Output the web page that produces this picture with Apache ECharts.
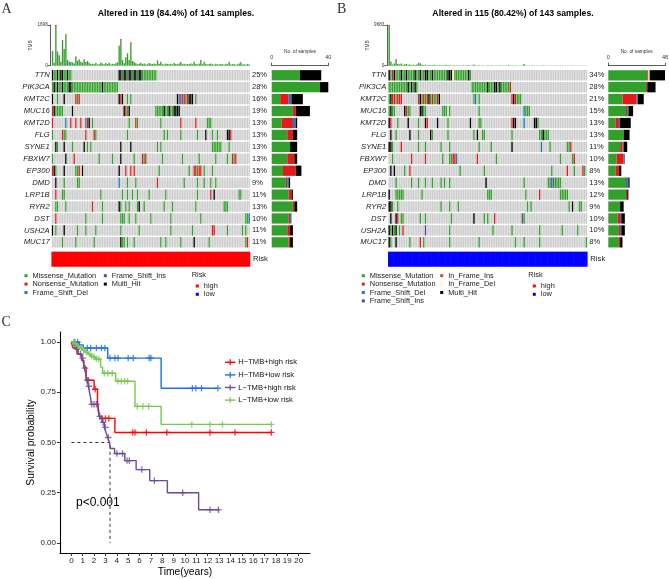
<!DOCTYPE html>
<html><head><meta charset="utf-8">
<script src="https://cdn.jsdelivr.net/npm/echarts@6.0.0/dist/echarts.min.js"></script>
<style>html,body{margin:0;padding:0;background:#fff;}#c{width:669px;height:579px;}</style>
</head><body><div id="c"></div>
<script>
// ================= DATA =================
const genes = ['TTN','PIK3CA','KMT2C','MUC16','KMT2D','FLG','SYNE1','FBXW7','EP300','DMD','LRP1B','RYR2','DST','USH2A','MUC17'];
const pctA = ['25%','28%','16%','19%','13%','13%','13%','13%','15%','9%','11%','13%','10%','11%','11%'];
const pctB = ['34%','28%','21%','15%','13%','13%','11%','10%','8%','13%','12%','9%','10%','10%','8%'];
const titleA = 'Altered in 119 (84.4%) of 141 samples.';
const titleB = 'Altered in 115 (80.42%) of 143 samples.';
const nA = 119, nB = 115;
// mutation codes per sample column: M missense, N nonsense, D frame-shift del, I frame-shift ins, i in-frame ins, d in-frame del, X multi-hit
const mutA = [
 "0X 1M 2M 3X 4M 5X 6X 7M 8M 9X 10M 11M 40X 41X 42M 43X 44X 45M 46X 47X 48M 49X 50X 51M 52X 53X 54-62M",
 "0M 1X 2M 3X 4-5M 6X 7-9M 10X 11X 12-29M 30X 31-39M",
 "0X 3M 7X 14N 15M 16N 40X 41N 42X 45M 47M 75X 76D 77N 78D 79N 80M 81N 82X 83X 84X 86M",
 "0N 1X 2-6M 12X 43X 44N 45M 46X 62M 63-66M 67X 68M 69M 70X 71M 72M 73X 74X 75X 76X",
 "0N 8D 11N 14N 17N 20D 21N 22X 24M 46M 50N 51M 65M 77N 86N 93M 94M 95M",
 "0M 6N 7M 8M 20N 25N 26M 45M 67M 69M 77M 87M 92X 96M 99M 105X 106X 107N",
 "2X 3M 7X 12M 19X 21M 23M 41X 47X 63M 65M 96-101M 106M",
 "0M 8X 13N 28M 36M 41X 49M 54N 55M 56N 66M 78M 88M 98M 105M 108N 109M 110N",
 "0N 1X 2M 7X 14M 15M 16N 18X 40X 44N 47N 49N 64M 82M 85N 86N 87M 88N 89N 91M 96M",
 "2X 7M 15M 16M 40D 45M 50M 63N 79M 87M 91M 95M 98M",
 "2N 6M 7M 29M 42M 45M 48M 51M 58M 68M 87M 95N 97X 112M 113M",
 "2M 3M 8M 24N 30M 40X 41M 44M 46M 51M 52X 55M 67M 72M 86M 103-105M",
 "2N 20M 30M 41-43M 46M 50M 59M 71M 89M 116M 117M 118D",
 "0X 2M 7X 15M 20M 26M 41M 52M 71M 84M 96N 97N 105M 114M 116M",
 "6M 14M 25M 41X 42M 43M 45M 49M 65M 68M 77M 85X 94M 116M 117N"
];
const mutB = [
 "0X 1M 2N 3X 4-6M 7X 8M 9M 10X 11-14M 15X 16M 17M 18X 19M 20M 21X 22X 23M 24M 25X 26-33M 34X 35X 36X 37d 38-45M 46X 47M",
 "0-10M 11X 12M 13X 14M 15X 16M 48-56M 57X 58-60M 61X 62X 63M 64X 65-69M 70N",
 "0M 1X 2N 3N 4M 5N 6N 7N 17N 18X 19M 20N 21M 22N 23X 24M 25N 26M 27M 28N 29X 49M 50D 52M 71N 72X 73N 74-76M",
 "0M 1X 2M 3M 9X 10N 11M 12M 18X 19X 20M 21M 31M 32M 33M 35M 52M 78D 79-81M",
 "0X 1N 5M 11X 17M 21X 22N 28X 34M 47X 52M 53M 71N 72X 73X 78D 84X 85X 86M",
 "1X 4M 12X 17M 24X 25M 34M 49M 51X 54M 55M 71M 87M 88M 89X 90-92M",
 "0X 1X 2M 7N 17M 21M 30M 35M 52M 59M 71X 88D 93M 103M 104M 105N",
 "2M 13N 21N 31M 35M 36M 37N 38N 39D 51N 62M 99M 106M 107N",
 "1X 3X 9M 12N 41M 55M 94M 103N 107M 112N 113M",
 "4M 13M 17M 21M 25M 30M 32M 35M 56X 78M 92M 93M 94I 95D 96-99M",
 "0X 4-8M 19M 57-59M 79M 87N 99-103M",
 "0X 1X 2M 5M 30M 35M 40M 80M 82M 104M 106X 110M 111M",
 "1X 4X 5N 7M 8M 18M 21M 36M 49X 55M 57M 61N 77I 78M",
 "0X 1M 2X 3M 4X 6M 8N 21I 35M 60M 71M 87M 100M 109M",
 "0X 1M 4X 12M 18N 20M 35M 52M 73M 78M 87M 114M"
];
// TMB per sample (missense part) and extra parts [sample, value]
const tmbA_mis = [590,120,1610,565,440,170,1010,700,1120,240, 180,150,140,90,360,200,240,170,130,265, 100,195,125,70,80,60,110,50,60,130, 90,60,110,70,130,50,80,60,100,140, 795,1053,236,100,348,485,236,924,195,150, 100,60,80,120,70,90,50,60,110,80, 70,90,60,210,80,167,60,50,90,70, 60,80,50,110,70,60,90,150,60,80, 50,70,60,90,60,167,70,50,80,236, 60,167,80,50,70,90,60,40,80,60, 50,70,60,40,80,60,167,50,60,70, 40,60,90,140,50,60,40,70,50];
const tmbA_non = [[0,30],[2,88],[3,25],[6,60],[8,50],[14,20],[40,40],[41,60],[45,30],[47,50],[16,15],[63,15]];
const tmbA_del = [[8,140],[20,50]];
const tmbB_mis = [9400,900,300,520,1480,380,300,520,250,350, 420,200,300,150,250,180,300,690,540,200, 150,250,120,180,100,150,200,120,90,150, 100,80,120,150,100,80,60,120,90,100, 80,100,60,150,80,120,90,60,100,300, 80,60,100,70,90,60,50,80,60,100, 70,60,90,50,80,60,70,50,60,200, 60,80,50,90,60,70,50,80,380,60, 50,70,60,80,50,60,70,50,60,80, 50,60,40,70,50,60,40,50,60,70, 40,60,50,40,60,50,70,40,50,60, 40,50,60,40,50];
const tmbB_non = [[0,283],[1,50],[4,100],[17,25]];
const tmbB_del = [];
const tmbMaxA = 1698, tmbMaxB = 9683;
const barMaxA = 40, barMaxB = 48;
const riskA = [['high', 119]];
const riskB = [['low', 115]];
const typeCodes = ['M','N','D','I','i','d','X'];
const typeNames = ['Missense_Mutation','Nonsense_Mutation','Frame_Shift_Del','Frame_Shift_Ins','In_Frame_Ins','In_Frame_Del','Multi_Hit'];
const legendItemsA = ['Missense_Mutation','Nonsense_Mutation','Frame_Shift_Del','Frame_Shift_Ins','Multi_Hit'];
const legendItemsB = ['Missense_Mutation','Nonsense_Mutation','Frame_Shift_Del','Frame_Shift_Ins','In_Frame_Ins','In_Frame_Del','Multi_Hit'];
const riskLevels = ['high','low'];
// Kaplan-Meier
const kmGroups = ['H\u2212TMB+high risk','H\u2212TMB+low risk','L\u2212TMB+high risk','L\u2212TMB+low risk'];
const kmHH_t = [0,0.15,0.5,0.9,1.1,1.3,2.0,2.3,2.4,2.5,3.83,17.6];
const kmHH_s = [1.0,0.97,0.94,0.91,0.875,0.81,0.765,0.70,0.66,0.62,0.55,0.55];
const kmHH_c = [1.5,2.1,2.7,3.0,3.3,5.4,5.6,6.6,8.4,12.2,14.4,17.6];
const kmHL_t = [0,0.7,1.05,3.2,7.9,12.9];
const kmHL_s = [1.0,0.985,0.97,0.92,0.77,0.77];
const kmHL_c = [0.3,0.55,1.4,1.7,2.2,2.65,2.95,3.4,3.83,4.1,5.0,5.45,6.85,7.0,10.65,10.95,11.45,12.9];
const kmLH_t = [0,0.2,0.4,0.6,0.9,1.05,1.15,1.25,1.35,1.5,1.6,1.7,1.75,2.35,2.45,2.7,2.9,3.05,3.2,3.35,3.45,3.8,4.7,5.7,6.9,8.45,11.2,13.0];
const kmLH_s = [1.0,0.985,0.965,0.94,0.92,0.90,0.87,0.845,0.81,0.78,0.75,0.72,0.69,0.66,0.63,0.60,0.575,0.55,0.525,0.50,0.47,0.445,0.41,0.365,0.31,0.25,0.165,0.165];
const kmLH_c = [0.3,0.5,0.8,1.0,1.2,1.4,1.55,1.8,2.0,2.2,2.5,2.8,3.0,3.25,4.0,4.5,4.9,5.1,6.2,7.3,9.8,12.2,12.95];
const kmLL_t = [0,0.25,0.5,0.75,1.0,1.2,1.45,1.7,1.9,2.1,2.57,2.75,3.9,5.6,7.9,17.6];
const kmLL_s = [1.0,0.99,0.98,0.97,0.96,0.95,0.94,0.93,0.925,0.915,0.875,0.845,0.805,0.68,0.59,0.59];
const kmLL_c = [0.2,0.35,0.6,0.9,1.1,1.3,1.6,1.8,2.0,2.2,2.4,2.9,3.2,3.6,4.1,4.4,4.7,4.95,5.8,6.3,6.8,10.6,12.2,13.3,17.6];
const medianTime = 3.4;
const pText = 'p<0.001';
const kmXTicks = [0,1,2,3,4,5,6,7,8,9,10,11,12,13,14,15,16,17,18,19,20];
const kmYTicks = [0,0.25,0.5,0.75,1.0];

// ================= STYLE / BUILD =================
const FONT = "'Liberation Sans', Arial, sans-serif";
const typeColor = {M:'#33A02C', N:'#E31A1C', D:'#1F78B4', I:'#6A3D9A', i:'#D53E4F', d:'#FFFF99', X:'#000000'};
const greyCell = '#CCCCCC';
const riskColor = {high:'#FF0000', low:'#0000FF'};
const kmColors = ['#FF0000','#1F6FE5','#6B4A9B','#78C850'];

function parseMut(str){
  const out = [];
  str.trim().split(/\s+/).forEach(tok => {
    const m = tok.match(/^(\d+)(?:-(\d+))?([A-Za-z])$/);
    const a = +m[1], b = m[2] !== undefined ? +m[2] : a;
    for (let k = a; k <= b; k++) out.push([k, m[3]]);
  });
  return out;
}
function matrixData(mut, n){
  const data = [];
  mut.forEach((s, r) => {
    const row = new Array(n).fill(0);
    parseMut(s).forEach(([k, c]) => { if (k < n) row[k] = typeCodes.indexOf(c) + 1; });
    row.forEach((c, k) => data.push([k, r, c]));
  });
  return data;
}
function counts(mut){
  return typeCodes.map(code => mut.map(s => parseMut(s).filter(p => p[1] === code).length));
}
const cellColors = [greyCell].concat(typeCodes.map(c => typeColor[c]));
function cellItem(params, api){
  const p = api.coord([api.value(0), api.value(1)]);
  const s = api.size([1, 1]);
  return {type:'rect', shape:{x:p[0]-s[0]/2+0.15, y:p[1]-s[1]/2+0.75, width:Math.max(s[0]-0.3,0.4), height:s[1]-1.5},
          style:{fill: cellColors[api.value(2)]}};
}
function riskItem(params, api){
  const p = api.coord([api.value(0), 0]);
  const s = api.size([1, 1]);
  return {type:'rect', shape:{x:p[0]-s[0]/2-0.3, y:p[1]-s[1]/2, width:s[0]+0.6, height:s[1]},
          style:{fill: riskColor[riskLevels[api.value(2)]]}};
}
function riskData(risk){
  const d = []; let k = 0;
  risk.forEach(([lvl, cnt]) => { for (let j = 0; j < cnt; j++) d.push([k++, 0, riskLevels.indexOf(lvl)]); });
  return d;
}
function sparse(pairs, n){ const a = new Array(n).fill(0); pairs.forEach(([k,v]) => a[k] = v); return a; }
function survAt(t, s, x){ let v = s[0]; for (let i = 0; i < t.length; i++) if (t[i] <= x) v = s[i]; return v; }

const samplesA = Array.from({length:nA}, (_, i) => 'A' + i);
const samplesB = Array.from({length:nB}, (_, i) => 'B' + i);

const panels = [
  {n:nA, samples:samplesA, mut:mutA, pct:pctA, mis:tmbA_mis, non:tmbA_non, del:tmbA_del, tmax:tmbMaxA, bmax:barMaxA, risk:riskA,
   tmbGrid:{left:51.7, top:25, width:198.3, height:40.7}, matGrid:{left:51.7, top:69.3, width:198.3, height:179},
   barGrid:{left:271.7, top:69.3, width:56.6, height:179}, riskGrid:{left:51.7, top:251.7, width:198.3, height:15}},
  {n:nB, samples:samplesB, mut:mutB, pct:pctB, mis:tmbB_mis, non:tmbB_non, del:tmbB_del, tmax:tmbMaxB, bmax:barMaxB, risk:riskB,
   tmbGrid:{left:388.3, top:25, width:199, height:40.7}, matGrid:{left:388.3, top:69.3, width:199, height:179},
   barGrid:{left:608.3, top:69.3, width:56.7, height:179}, riskGrid:{left:388.3, top:251.7, width:199, height:15}}
];

const grid = [], xAxis = [], yAxis = [], series = [];
const axisCol = '#333';
panels.forEach(P => {
  const g0 = grid.length;
  [P.tmbGrid, P.matGrid, P.barGrid, P.riskGrid].forEach(g => grid.push(Object.assign({outerBoundsMode:'none', containLabel:false}, g)));
  const xi = xAxis.length;
  xAxis.push({gridIndex:g0, type:'category', data:P.samples, show:false});
  xAxis.push({gridIndex:g0+1, type:'category', data:P.samples, show:false});
  xAxis.push({gridIndex:g0+2, type:'value', position:'top', min:0, max:P.bmax, interval:P.bmax, offset:3.6,
    axisLine:{show:true, lineStyle:{color:axisCol, width:0.8}}, axisTick:{show:true, length:3, lineStyle:{color:axisCol, width:0.8}},
    axisLabel:{fontSize:5.5, color:'#333', margin:5, fontFamily:FONT, formatter:v => String(v)}, splitLine:{show:false},
    name:'No. of samples', nameLocation:'middle', nameGap:2.5, nameTextStyle:{fontSize:4.8, color:'#333', fontFamily:FONT}});
  xAxis.push({gridIndex:g0+3, type:'category', data:P.samples, show:false});
  const yi = yAxis.length;
  yAxis.push({gridIndex:g0, type:'value', min:0, max:P.tmax, interval:P.tmax, offset:1.5,
    axisLine:{show:true, lineStyle:{color:axisCol, width:0.8}}, axisTick:{show:true, length:2.5, lineStyle:{color:axisCol, width:0.8}},
    axisLabel:{fontSize:4.6, color:'#333', margin:2.5, fontFamily:FONT, formatter:v => String(v)}, splitLine:{show:false},
    name:'TMB', nameLocation:'middle', nameGap:14, nameRotate:90, nameTextStyle:{fontSize:4.8, color:'#333', fontFamily:FONT}});
  yAxis.push({gridIndex:g0+1, type:'category', data:genes, inverse:true, position:'left',
    axisLine:{show:false}, axisTick:{show:false},
    axisLabel:{interval:0, fontSize:7.7, fontStyle:'italic', color:'#222', margin:2, fontFamily:FONT}});
  yAxis.push({gridIndex:g0+1, type:'category', data:genes, inverse:true, position:'right',
    axisLine:{show:false}, axisTick:{show:false},
    axisLabel:{interval:0, fontSize:7.5, color:'#222', margin:2, fontFamily:FONT, formatter:(v, i) => P.pct[i]}});
  yAxis.push({gridIndex:g0+2, type:'category', data:genes, inverse:true, show:false});
  yAxis.push({gridIndex:g0+3, type:'category', data:['Risk'], position:'right',
    axisLine:{show:false}, axisTick:{show:false}, axisLabel:{fontSize:7.7, color:'#222', margin:3, fontFamily:FONT}});
  const del = sparse(P.del, P.n), non = sparse(P.non, P.n);
  [[del, typeColor.D], [P.mis, typeColor.M], [non, typeColor.N]].forEach(([d, c]) => {
    series.push({type:'bar', xAxisIndex:xi, yAxisIndex:yi, stack:'tmb'+g0, data:d, barWidth:'82%',
      itemStyle:{color:c}, silent:true});
  });
  series.push({type:'custom', xAxisIndex:xi+1, yAxisIndex:yi+1, renderItem:cellItem,
    data:matrixData(P.mut, P.n), encode:{x:0, y:1}, silent:true});
  const cnt = counts(P.mut);
  typeCodes.forEach((code, ti) => {
    if (cnt[ti].every(v => v === 0)) return;
    series.push({type:'bar', xAxisIndex:xi+2, yAxisIndex:yi+3, stack:'gb'+g0, data:cnt[ti], barWidth:'86%',
      itemStyle:{color:typeColor[code]}, silent:true});
  });
  series.push({type:'custom', xAxisIndex:xi+3, yAxisIndex:yi+4, renderItem:riskItem,
    data:riskData(P.risk), encode:{x:0, y:1}, silent:true});
});

// KM grid
const kmG = grid.length;
grid.push({left:60, top:332, width:250, height:221, outerBoundsMode:'none', containLabel:false});
const kmXi = xAxis.length, kmYi = yAxis.length;
xAxis.push({gridIndex:kmG, type:'value', min:-1, max:21,
  axisLine:{show:true, onZero:false, lineStyle:{color:'#000', width:1.1}},
  axisTick:{show:true, length:3, customValues:kmXTicks, lineStyle:{color:'#333', width:1}},
  axisLabel:{customValues:kmXTicks, fontSize:8, color:'#222', margin:4, fontFamily:FONT}, splitLine:{show:false},
  name:'Time(years)', nameLocation:'middle', nameGap:14, nameTextStyle:{fontSize:10.3, color:'#000', fontFamily:FONT}});
yAxis.push({gridIndex:kmG, type:'value', min:-0.05, max:1.05,
  axisLine:{show:true, onZero:false, lineStyle:{color:'#000', width:1.1}},
  axisTick:{show:true, length:3, customValues:kmYTicks, lineStyle:{color:'#333', width:1}},
  axisLabel:{customValues:kmYTicks, fontSize:8, color:'#222', margin:4, fontFamily:FONT, formatter:v => (+v).toFixed(2)},
  splitLine:{show:false},
  name:'Survival probability', nameLocation:'middle', nameGap:24, nameRotate:90, nameTextStyle:{fontSize:10.3, color:'#000', fontFamily:FONT}});

const plusPath = 'path://M4,0H6V4H10V6H6V10H4V6H0V4H4Z';
const kmSets = [[kmHH_t,kmHH_s,kmHH_c],[kmHL_t,kmHL_s,kmHL_c],[kmLH_t,kmLH_s,kmLH_c],[kmLL_t,kmLL_s,kmLL_c]];
series.push({type:'line', xAxisIndex:kmXi, yAxisIndex:kmYi, data:[[0,0.5],[medianTime,0.5],[medianTime,0]], symbol:'none',
  lineStyle:{color:'#000', width:0.8, type:[3,3]}, silent:true, z:1});
kmSets.forEach(([t, s, c], gi) => {
  series.push({type:'line', xAxisIndex:kmXi, yAxisIndex:kmYi, step:'end', symbol:'none',
    data:t.map((x, i) => [x, s[i]]), lineStyle:{color:kmColors[gi], width:1.4}, silent:true, z:2+gi});
  series.push({type:'scatter', xAxisIndex:kmXi, yAxisIndex:kmYi, symbol:plusPath, symbolSize:6.5,
    data:c.map(x => [x, survAt(t, s, x)]), itemStyle:{color:kmColors[gi]}, silent:true, z:2+gi});
});

// ================= GRAPHICS (titles, legends) =================
const gfx = [];
function text(x, y, str, o){
  gfx.push({type:'text', x, y, silent:true, style:Object.assign({text:str, fill:'#222', fontSize:7.4, fontFamily:FONT,
    textAlign:'left', align:'left', textVerticalAlign:'middle', verticalAlign:'middle'}, o || {})});
}
function square(x, y, c, sz){ sz = sz || 3; gfx.push({type:'rect', silent:true, shape:{x:x-sz/2, y:y-sz/2, width:sz, height:sz}, style:{fill:c}}); }
text(1.5, 9, 'A', {fontFamily:"'Liberation Serif', serif", fontSize:14, fill:'#333'});
text(337, 9, 'B', {fontFamily:"'Liberation Serif', serif", fontSize:14, fill:'#333'});
text(1.5, 322, 'C', {fontFamily:"'Liberation Serif', serif", fontSize:14, fill:'#333'});
text(176, 13.5, titleA, {fontWeight:'bold', fontSize:8.7, fill:'#000', textAlign:'center', align:'center'});
text(513, 13.5, titleB, {fontWeight:'bold', fontSize:8.7, fill:'#000', textAlign:'center', align:'center'});
function mutLegend(items, x1, x2, split, y0, dy){
  items.forEach((nm, i) => {
    const col = i < split ? 0 : 1, row = i < split ? i : i - split;
    const x = col === 0 ? x1 : x2, y = y0 + row * dy;
    square(x, y, typeColor[typeCodes[typeNames.indexOf(nm)]]);
    text(x + 6.5, y, nm);
  });
}
mutLegend(legendItemsA, 26, 105.3, 3, 275.7, 8.4);
mutLegend(legendItemsB, 363.3, 441.7, 4, 275.7, 8.4);
[[191.7, 197.3], [528.3, 534.3]].forEach(([xt, xs]) => {
  text(xt, 275, 'Risk');
  riskLevels.forEach((lv, i) => { square(xs, 286 + i * 8.3, riskColor[lv]); text(xs + 6.5, 286 + i * 8.3, lv); });
});
kmGroups.forEach((nm, i) => {
  const y = 362.3 + i * 12.6;
  gfx.push({type:'line', silent:true, shape:{x1:225, y1:y, x2:235.5, y2:y}, style:{stroke:kmColors[i], lineWidth:1.4}});
  gfx.push({type:'line', silent:true, shape:{x1:230.2, y1:y-3, x2:230.2, y2:y+3}, style:{stroke:kmColors[i], lineWidth:1.2}});
  text(238.3, y, nm, {fontSize:7.6, fill:'#111'});
});
text(76, 503, pText, {fontSize:12, fill:'#000'});

const chart = echarts.init(document.getElementById('c'), null, {renderer:'canvas'});
chart.setOption({animation:false, backgroundColor:'#fff', grid, xAxis, yAxis, series, graphic:{elements:gfx}});
</script>
</body></html>
